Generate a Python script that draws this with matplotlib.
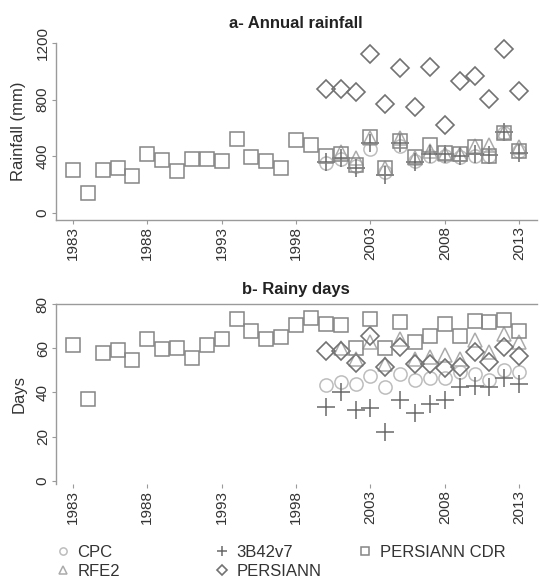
import matplotlib
matplotlib.use("Agg")
import matplotlib.pyplot as plt
from matplotlib.lines import Line2D

plt.rcParams['font.family'] = ['Liberation Sans', 'DejaVu Sans']

# ---------------- data ----------------
years_cdr = list(range(1983, 2014))
years_sat = list(range(2000, 2014))
years_rfe = list(range(2001, 2014))
xtick_years = [1983, 1988, 1993, 1998, 2003, 2008, 2013]

# a- Annual rainfall (mm)
rain_cdr = [302, 140, 302, 316, 260, 414, 372, 295, 379, 379, 365, 526, 393, 365,
            316, 512, 477, 400, 418, 340, 539, 318, 505, 395, 478, 425, 420, 466,
            405, 565, 435]
rain_persiann = [877, 877, 857, 1123, 772, 1025, 751, 1032, 618, 934, 969, 807, 1158, 863]
rain_3b42 = [360, 385, 318, 492, 270, 492, 360, 415, 415, 400, 418, 410, 572, 425]
rain_cpc = [355, 380, 330, 450, 290, 470, 370, 405, 400, 395, 405, 405, 565, 440]
rain_rfe2 = [430, 390, 530, 320, 532, 385, 440, 420, 420, 470, 482, 575, 468]
rain_yticks = [0, 400, 800, 1200]

# b- Rainy days
days_cdr = [61.5, 37, 58, 59, 54.5, 64, 59.5, 60.2, 55.6, 61.6, 64.3, 73, 68, 64.3,
            65.2, 70.6, 73.7, 71, 70.6, 60.2, 73.3, 60.2, 71.9, 63, 65.6, 71, 65.6,
            72.4, 71.9, 72.8, 67.9]
days_persiann = [58.9, 58.9, 53.5, 65.6, 51.7, 60.7, 53, 53, 50.8, 51.7, 58.4, 53.9, 60.7, 56.6]
days_3b42 = [33.3, 40, 31.9, 32.8, 22, 36.4, 30.6, 34.6, 36.4, 42.2, 42.7, 42.5, 46.7, 44]
days_cpc = [43.1, 44.5, 43.6, 47.2, 42.2, 48.5, 45.4, 46.3, 46.3, 49, 48.5, 45.8, 50.3, 49.4]
days_rfe2 = [60, 55, 63, 53, 64, 55, 56, 57, 55, 63.5, 58.4, 66.5, 63]
days_yticks = [0, 20, 40, 60, 80]

labels = ["CPC", "RFE2", "3B42v7", "PERSIANN", "PERSIANN CDR"]

# ---------------- styles ----------------
c_cpc = "#bdbdbd"
c_rfe = "#ababab"
c_3b = "#6a6a6a"
c_per = "#727272"
c_cdr = "#858585"
txt = "#333333"
axc = "#9a9a9a"

W, H = 540, 579
fig = plt.figure(figsize=(W / 100, H / 100), dpi=100)


def frac_rect(left, top, right, bottom):
    return [left / W, 1 - bottom / H, (right - left) / W, (bottom - top) / H]


ax_a = fig.add_axes(frac_rect(56, 43, 537, 220))
ax_b = fig.add_axes(frac_rect(56, 304, 537, 484))


def draw(ax, cpc, rfe, b3, per, cdr):
    kw = dict(linestyle="none", markerfacecolor="none", clip_on=False)
    h1, = ax.plot(years_sat, cpc, marker="o", markersize=9.5, markeredgecolor=c_cpc,
                  markeredgewidth=1.1, **kw)
    h2, = ax.plot(years_rfe, rfe, marker="^", markersize=9.5, markeredgecolor=c_rfe,
                  markeredgewidth=1.1, **kw)
    h3, = ax.plot(years_sat, b3, marker="+", markersize=12.5, markeredgecolor=c_3b,
                  markeredgewidth=1.1, **kw)
    h4, = ax.plot(years_sat, per, marker="D", markersize=9.0, markeredgecolor=c_per,
                  markeredgewidth=1.2, **kw)
    h5, = ax.plot(years_cdr, cdr, marker="s", markersize=9.5, markeredgecolor=c_cdr,
                  markeredgewidth=1.1, **kw)
    ax.set_xlim(1981.86, 2014.2)
    ax.set_xticks(xtick_years)
    ax.set_xticklabels([str(y) for y in xtick_years], rotation=90, fontsize=11, color=txt)
    ax.tick_params(axis="both", length=3, width=0.8, color=axc, pad=1.5)
    ax.tick_params(axis="y", labelrotation=90, labelsize=11, labelcolor=txt)
    ax.patch.set_alpha(0)
    return [h1, h2, h3, h4, h5]


handles = draw(ax_a, rain_cpc, rain_rfe2, rain_3b42, rain_persiann, rain_cdr)
ax_a.set_ylim(-49, 1200)
ax_a.set_yticks(rain_yticks)
ax_a.set_yticklabels([str(v) for v in rain_yticks], rotation=90, va="center")
for s in ["top", "right"]:
    ax_a.spines[s].set_visible(False)
for s in ["left", "bottom"]:
    ax_a.spines[s].set_color(axc)
    ax_a.spines[s].set_linewidth(1.0)

draw(ax_b, days_cpc, days_rfe2, days_3b42, days_persiann, days_cdr)
ax_b.set_ylim(-1.5, 80)
ax_b.set_yticks(days_yticks)
ax_b.set_yticklabels([str(v) for v in days_yticks], rotation=90, va="center")
for s in ["right", "bottom"]:
    ax_b.spines[s].set_visible(False)
for s in ["left", "top"]:
    ax_b.spines[s].set_color(axc)
    ax_b.spines[s].set_linewidth(1.0)

# titles and axis labels
fig.text(296 / W, 1 - 23 / H, "a- Annual rainfall", ha="center", va="center",
         fontsize=12, fontweight="bold", color="#222222")
fig.text(296 / W, 1 - 289 / H, "b- Rainy days", ha="center", va="center",
         fontsize=12, fontweight="bold", color="#222222")
fig.text(19 / W, 1 - 131.5 / H, "Rainfall (mm)", rotation=90, ha="center", va="center",
         fontsize=12, color=txt)
fig.text(19 / W, 1 - 394 / H, "Days", rotation=90, ha="center", va="center",
         fontsize=12, color=txt)

# legend (three columns)
leg_kw = dict(frameon=False, fontsize=12, handlelength=1.0, handletextpad=0.35,
              labelspacing=0.25, borderpad=0, borderaxespad=0, markerscale=0.55,
              loc="upper left", labelcolor=txt)
cols = [(55, [0, 1]), (214, [2, 3]), (357, [4])]
for x0, idx in cols:
    fig.legend([handles[i] for i in idx], [labels[i] for i in idx],
               bbox_to_anchor=(x0 / W, 1 - 545 / H), **leg_kw)

fig.savefig("out.png", dpi=100)
